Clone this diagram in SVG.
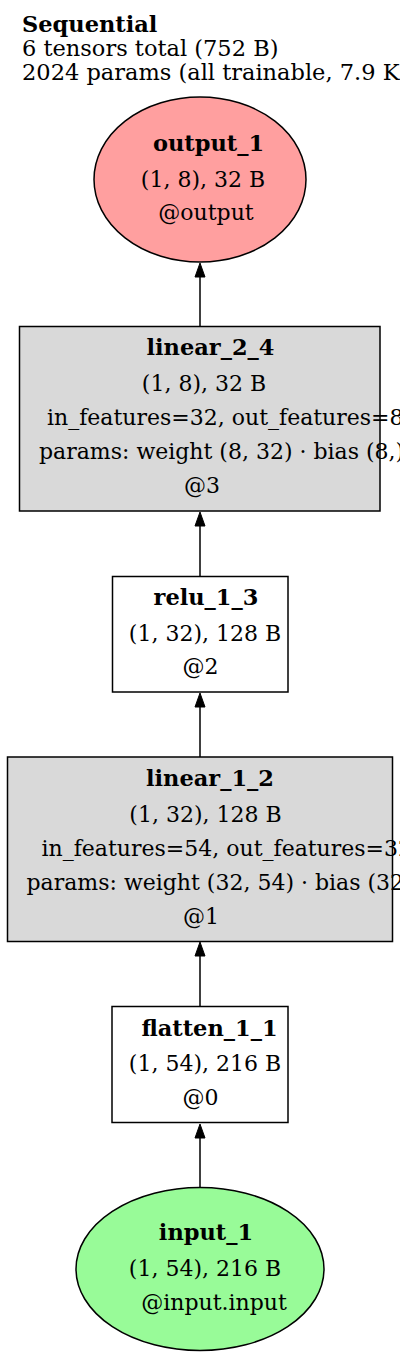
<svg xmlns="http://www.w3.org/2000/svg" width="400" height="1360" viewBox="0 0 400 1360">
<style>
text{font-family:"DejaVu Serif","Liberation Serif",serif;font-size:22px;fill:#000}
.b{font-weight:bold;font-size:22.5px}
.t{font-size:22.5px}
.m{text-anchor:middle}
.shape{stroke:#000;stroke-width:1.5}
.gray{fill:#d9d9d9}
.white{fill:#fff}
.edge{stroke:#000;stroke-width:1.5;fill:none}
.head{fill:#000;stroke:#000;stroke-width:1}
</style>
<rect width="400" height="1360" fill="#fff"/>
<g id="title">
<text class="b" x="22" y="32">Sequential</text>
<text class="t" x="22" y="56">6 tensors total (752 B)</text>
<text class="t" x="22" y="80">2024 params (all trainable, 7.9 KB)</text>
</g>
<g id="connectors">
<line class="edge" x1="200" y1="326" x2="200" y2="276"/>
<polygon class="head" points="200,263 195,277 205,277"/>
<line class="edge" x1="200" y1="576" x2="200" y2="525"/>
<polygon class="head" points="200,512 195,526 205,526"/>
<line class="edge" x1="200" y1="757" x2="200" y2="706"/>
<polygon class="head" points="200,693 195,707 205,707"/>
<line class="edge" x1="200" y1="1006" x2="200" y2="955"/>
<polygon class="head" points="200,942 195,956 205,956"/>
<line class="edge" x1="200" y1="1188" x2="200" y2="1137"/>
<polygon class="head" points="200,1124 195,1138 205,1138"/>
</g>
<g id="output_1">
<ellipse class="shape" cx="200" cy="179.5" rx="106" ry="82.5" fill="#ff9f9f"/>
<text class="b m" x="208.5" y="151">output_1</text>
<text class="m" x="203" y="187">(1, 8), 32 B</text>
<text class="m" x="206" y="220">@output</text>
</g>
<g id="linear_2_4">
<rect class="shape gray" x="19.5" y="326.5" width="360.5" height="184.5"/>
<text class="b m" x="210.5" y="355">linear_2_4</text>
<text class="m" x="204" y="391">(1, 8), 32 B</text>
<text x="47" y="425">in_features=32, out_features=8</text>
<text x="39" y="459">params: weight (8, 32) · bias (8,)</text>
<text class="m" x="202" y="493">@3</text>
</g>
<g id="relu_1_3">
<rect class="shape white" x="112.5" y="576.5" width="175.5" height="115.5"/>
<text class="b m" x="206" y="605">relu_1_3</text>
<text class="m" x="205" y="641">(1, 32), 128 B</text>
<text class="m" x="200.5" y="674">@2</text>
</g>
<g id="linear_1_2">
<rect class="shape gray" x="7.5" y="757" width="385" height="184.5"/>
<text class="b m" x="210" y="786">linear_1_2</text>
<text class="m" x="205.5" y="822">(1, 32), 128 B</text>
<text x="41.5" y="856">in_features=54, out_features=32</text>
<text x="26.5" y="890">params: weight (32, 54) · bias (32,)</text>
<text class="m" x="201" y="924">@1</text>
</g>
<g id="flatten_1_1">
<rect class="shape white" x="112" y="1006.5" width="176" height="116"/>
<text class="b m" x="209.5" y="1036">flatten_1_1</text>
<text class="m" x="205" y="1071">(1, 54), 216 B</text>
<text class="m" x="200.5" y="1105">@0</text>
</g>
<g id="input_1">
<ellipse class="shape" cx="200" cy="1269" rx="124" ry="81.5" fill="#98fb98"/>
<text class="b m" x="206" y="1240">input_1</text>
<text class="m" x="205" y="1276">(1, 54), 216 B</text>
<text class="m" x="214" y="1310">@input.input</text>
</g>
</svg>
